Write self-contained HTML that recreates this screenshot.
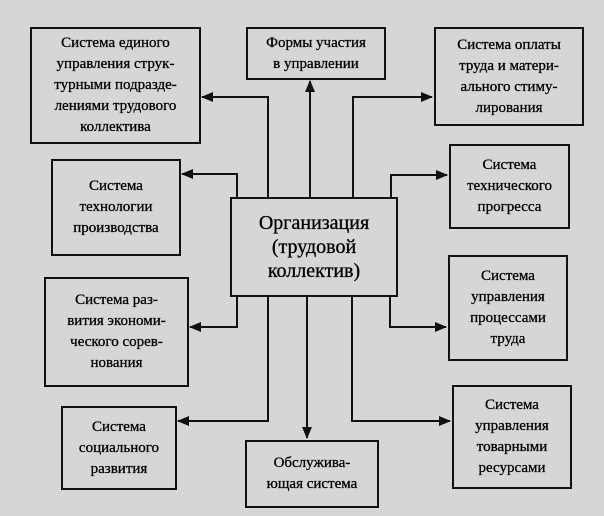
<!DOCTYPE html>
<html><head><meta charset="utf-8"><style>
html,body{margin:0;padding:0;background:#d6d6d4;}
#c{position:relative;width:604px;height:516px;overflow:hidden;background:#d6d6d4;font-family:"Liberation Serif",serif;color:#000;}
.b{position:absolute;box-sizing:border-box;border:2px solid #111;display:flex;align-items:center;justify-content:center;text-align:center;font-size:15px;line-height:21px;-webkit-text-stroke:0.3px #000;}
svg{position:absolute;left:0;top:0;}
</style></head><body><div id="c">
<svg width="604" height="516">
<defs><marker id="a" markerWidth="12" markerHeight="10" refX="11" refY="5" orient="auto" markerUnits="userSpaceOnUse"><path d="M0,0 L12,5 L0,10 Z" fill="#111"/></marker></defs>
<g stroke="#111" stroke-width="2" fill="none">
<polyline points="268,197 268,97 202,97" marker-end="url(#a)"/>
<polyline points="310,197 310,81" marker-end="url(#a)"/>
<polyline points="353,197 353,97 432,97" marker-end="url(#a)"/>
<polyline points="237,197 237,174 182,174" marker-end="url(#a)"/>
<polyline points="391,197 391,175 447,175" marker-end="url(#a)"/>
<polyline points="237,296 237,327 190,327" marker-end="url(#a)"/>
<polyline points="268,296 268,421 178,421" marker-end="url(#a)"/>
<polyline points="307,296 307,438" marker-end="url(#a)"/>
<polyline points="352,296 352,421 450,421" marker-end="url(#a)"/>
<polyline points="390,296 390,327 446,327" marker-end="url(#a)"/>
</g></svg>
<div class="b" style="left:30px;top:27px;width:171px;height:117px;">Система единого<br>управления струк-<br>турными подразде-<br>лениями трудового<br>коллектива</div>
<div class="b" style="left:246px;top:27px;width:140px;height:53px;">Формы участия<br>в управлении</div>
<div class="b" style="left:434px;top:27px;width:150px;height:99px;">Система оплаты<br>труда и матери-<br>ального стиму-<br>лирования</div>
<div class="b" style="left:51px;top:159px;width:130px;height:97px;">Система<br>технологии<br>производства</div>
<div class="b" style="left:449px;top:144px;width:121px;height:85px;">Система<br>технического<br>прогресса</div>
<div class="b" style="left:230px;top:197px;width:168px;height:100px;font-size:20px;line-height:24px;">Организация<br>(трудовой<br>коллектив)</div>
<div class="b" style="left:44px;top:277px;width:145px;height:110px;">Система раз-<br>вития экономи-<br>ческого сорев-<br>нования</div>
<div class="b" style="left:448px;top:255px;width:120px;height:106px;">Система<br>управления<br>процессами<br>труда</div>
<div class="b" style="left:61px;top:406px;width:116px;height:84px;">Система<br>социального<br>развития</div>
<div class="b" style="left:245px;top:440px;width:134px;height:68px;">Обслужива-<br>ющая система</div>
<div class="b" style="left:452px;top:385px;width:120px;height:104px;">Система<br>управления<br>товарными<br>ресурсами</div>
</div></body></html>
